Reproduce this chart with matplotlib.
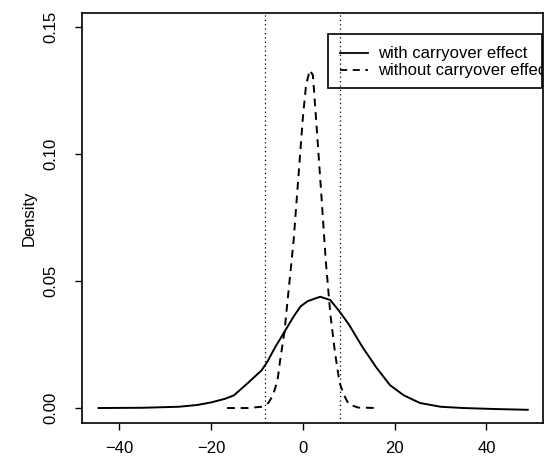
import matplotlib.pyplot as plt
from matplotlib.patches import Rectangle

plt.rcParams['font.family'] = ['Liberation Sans', 'DejaVu Sans']

# density curve, with carryover effect
with_x = [-44.5, -35, -27, -23, -20, -17, -15, -12, -9, -7.8, -6, -4, -2, -0.5,
          1, 2.5, 3.8, 6, 8, 10, 13, 16, 19, 22, 25.5, 30, 35, 42, 49]
with_y = [0.0, 0.0001, 0.0005, 0.0012, 0.0022, 0.0036, 0.005, 0.0098, 0.0148,
          0.018, 0.024, 0.030, 0.036, 0.040, 0.042, 0.043, 0.0438, 0.0425,
          0.038, 0.033, 0.024, 0.016, 0.009, 0.005, 0.002, 0.0005, 0.0,
          -0.0004, -0.0007]

# density curve, without carryover effect
without_x = [-16.5, -12, -9, -7.5, -6.5, -5.5, -5, -4, -3, -2, -1, 0, 0.7, 1.5,
             2.2, 3, 4, 5, 6, 7, 8, 9, 10, 12, 16]
without_y = [0.0, 0.0, 0.0005, 0.002, 0.005, 0.011, 0.018, 0.03, 0.048, 0.066,
             0.09, 0.114, 0.127, 0.133, 0.131, 0.111, 0.085, 0.058, 0.037,
             0.022, 0.01, 0.005, 0.0015, 0.0002, 0.0]

bounds = [-8.2, 8.2]
labels = ['with carryover effect', 'without carryover effect']

fig = plt.figure(figsize=(5.45, 4.61), dpi=100)
ax = fig.add_axes([0.1505, 0.0824, 0.846, 0.8894])

ax.plot(with_x, with_y, color='black', lw=1.4)
ax.plot(without_x, without_y, color='black', lw=1.4, dashes=(4, 3))
for b in bounds:
    ax.axvline(b, color='black', lw=0.9, linestyle=(0, (1, 2.5)))

ax.set_xlim(-48.1, 52.35)
ax.set_ylim(-0.0059, 0.1555)
ax.set_xticks([-40, -20, 0, 20, 40])
ax.set_yticks([0.0, 0.05, 0.10, 0.15])
ax.set_yticklabels(['0.00', '0.05', '0.10', '0.15'], rotation=90, va='center')
ax.tick_params(direction='out', length=5, width=1, labelsize=12, pad=8)
ax.tick_params(axis='y', pad=12)
for s in ax.spines.values():
    s.set_linewidth(1.2)
ax.set_ylabel('Density', fontsize=12, labelpad=5)

# legend drawn by hand so the text is clipped at the box like the original
lx0, ly0 = 328, 461 - 88
lw_, lh = 214, 54
box = Rectangle((lx0, ly0), lw_, lh, transform=None, fill=False,
                edgecolor='black', lw=1.2, zorder=5)
fig.patches.append(box)
rows = [(461 - 53, None), (461 - 70, (4, 3))]
for (py, d), lab in zip(rows, labels):
    ln = plt.Line2D([340, 368], [py, py], transform=None, color='black', lw=1.3)
    if d:
        ln.set_dashes(d)
    fig.lines.append(ln)
    t = fig.text(378, py, lab, transform=None, fontsize=12, va='center')
    t.set_clip_path(box)

fig.savefig('out.png', dpi=100)
